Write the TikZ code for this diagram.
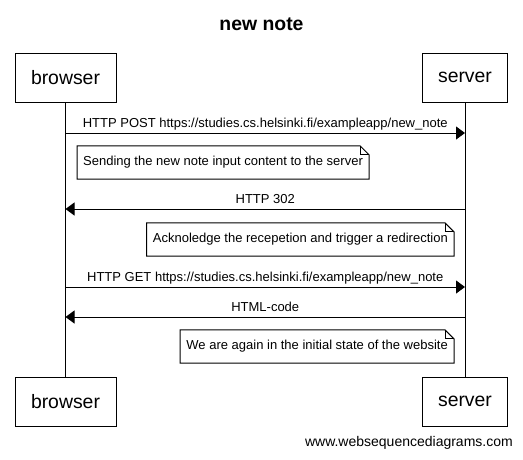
\documentclass[tikz,border=0pt]{standalone}
\usepackage{fontspec}
\setmainfont{Liberation Sans}
\usetikzlibrary{arrows.meta,calc}
\def\notefold(#1){\draw[line width=1pt] (#1.north west) -- ($(#1.north east)+(-9,0)$) -- ($(#1.north east)+(0,9)$) -- (#1.south east) -- (#1.south west) -- cycle; \draw[line width=1pt] ($(#1.north east)+(-9,0)$) |- ($(#1.north east)+(0,9)$);}
\tikzset{
	actor/.style={draw, line width=1pt, minimum height=49pt, inner xsep=16pt, font=\fontsize{19.4}{23}\selectfont},
	note/.style={inner xsep=6pt, inner ysep=0pt, minimum height=33pt, font=\fontsize{13}{15}\selectfont},
	msg/.style={line width=1pt, -{Triangle[length=9pt,width=13pt]}},
	lbl/.style={above=2pt, inner sep=0pt, text depth=3pt, font=\fontsize{13}{15}\selectfont},
}

\begin{document}
\begin{tikzpicture}[x=1pt, y=-1pt]
			%%%%% START %%%%%
			\useasboundingbox (0, 0) rectangle (523, 459);
			
			\node[font=\bfseries\fontsize{19.4}{23}\selectfont, anchor=base] (title) at (261.5, 30) {new note};
			
			\node[actor] (browserTop) at (65.5, 77.5) {browser};
			\node[actor] (serverTop) at (465, 77.5) {server};
			\node[actor] (browserBot) at (65.5, 401.5) {browser};
			\node[actor] (serverBot) at (465, 401.5) {server};
			
			\draw[line width=1pt] (browserTop) -- (browserBot);
			\draw[line width=1pt] (serverTop) -- (serverBot);
			
			\coordinate (b1) at (65.5, 133);
			\coordinate (s1) at (465, 133);
			\draw[msg] (b1) -- node[lbl] {HTTP POST https://studies.cs.helsinki.fi/exampleapp/new\_note} (s1);
			
			\node[note, anchor=west] (n1) at (77, 162.5) {Sending the new note input content to the server};
			\notefold(n1)
			
			\coordinate (s2) at (465, 209);
			\coordinate (b2) at (65.5, 209);
			\draw[msg] (s2) -- node[lbl] {HTTP 302} (b2);
			
			\node[note, anchor=east] (n2) at (454, 239.5) {Acknoledge the recepetion and trigger a redirection};
			\notefold(n2)
			
			\coordinate (b3) at (65.5, 287);
			\coordinate (s3) at (465, 287);
			\draw[msg] (b3) -- node[lbl] {HTTP GET https://studies.cs.helsinki.fi/exampleapp/new\_note} (s3);
			
			\coordinate (s4) at (465, 317);
			\coordinate (b4) at (65.5, 317);
			\draw[msg] (s4) -- node[lbl] {HTML-code} (b4);
			
			\node[note, anchor=east] (n3) at (454, 346.5) {We are again in the initial state of the website};
			\notefold(n3)
			
			\node[font=\fontsize{14}{16}\selectfont, anchor=base east, inner sep=0pt] (site) at (513, 446) {www.websequencediagrams.com};
			%%%%% END %%%%%
		\end{tikzpicture}
\end{document}
